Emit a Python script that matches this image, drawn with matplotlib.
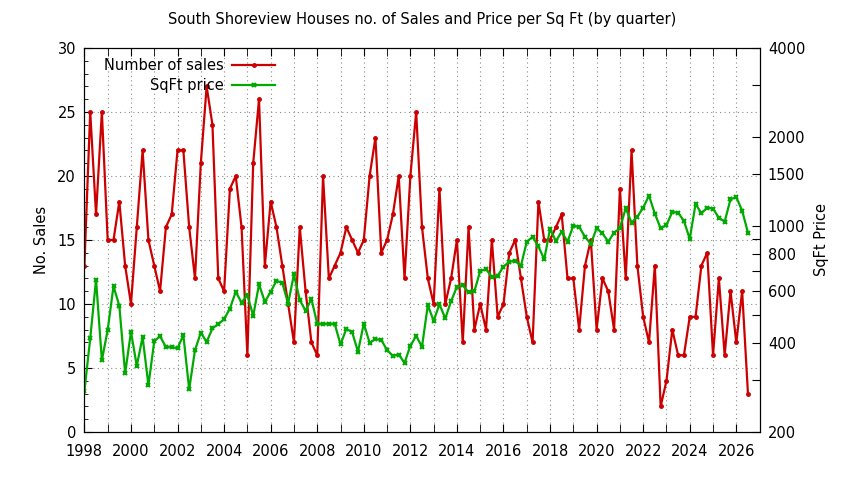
import numpy as np
import matplotlib
matplotlib.use("Agg")
import matplotlib.pyplot as plt
from matplotlib.ticker import MultipleLocator, FixedLocator, NullLocator, NullFormatter

plt.rcParams['font.family'] = ['DejaVu Sans']

# quarterly data, first quarter of 1998 onwards
first_year = 1998
sales = [13, 25, 17, 25, 15, 15, 18, 13, 10, 16,
         22, 15, 13, 11, 16, 17, 22, 22, 16, 12,
         21, 27, 24, 12, 11, 19, 20, 16, 6, 21,
         26, 13, 18, 16, 13, 10, 7, 16, 11, 7,
         6, 20, 12, 13, 14, 16, 15, 14, 15, 20,
         23, 14, 15, 17, 20, 12, 20, 25, 16, 12,
         10, 19, 10, 12, 15, 7, 16, 8, 10, 8,
         15, 9, 10, 14, 15, 12, 9, 7, 18, 15,
         15, 16, 17, 12, 12, 8, 13, 15, 8, 12,
         11, 8, 19, 12, 22, 13, 9, 7, 13, 2,
         4, 8, 6, 6, 9, 9, 13, 14, 6, 12,
         6, 11, 7, 11, 3]
sqft_price = [275, 415, 657, 350, 443, 624, 535, 316, 437, 335,
              420, 288, 406, 422, 388, 388, 384, 426, 279, 379,
              434, 404, 449, 464, 482, 524, 597, 549, 582, 495,
              633, 552, 597, 651, 640, 545, 684, 560, 515, 565,
              465, 465, 465, 465, 396, 447, 436, 374, 466, 401,
              413, 410, 379, 362, 366, 343, 392, 423, 389, 538,
              476, 542, 485, 555, 621, 628, 594, 600, 702, 712,
              671, 677, 726, 755, 761, 732, 883, 916, 851, 769,
              977, 887, 954, 883, 1000, 990, 918, 867, 980, 942,
              883, 947, 980, 1146, 1024, 1073, 1151, 1264, 1099, 980,
              1005, 1113, 1107, 1038, 902, 1185, 1102, 1151, 1142, 1064,
              1032, 1229, 1249, 1125, 947]
quarters = first_year + np.arange(len(sales)) / 4.0

year_labels = list(range(1998, 2027, 2))
price_ticks = [200, 300, 400, 500, 600, 700, 800, 900, 1000, 1500, 2000, 3000, 4000]
price_labels = [200, 400, 600, 800, 1000, 1500, 2000, 4000]

red = '#cc0000'
green = '#00aa00'

fig = plt.figure(figsize=(8.44, 4.8), dpi=100)
ax = fig.add_axes([0.1, 0.1, 0.8, 0.8])
ax2 = ax.twinx()

l1, = ax.plot(quarters, sales, color=red, lw=1.6, marker='o', ms=2.5,
              label='Number of sales')
l2, = ax2.plot(quarters, sqft_price, color=green, lw=1.6, marker='x', ms=3.5,
               mew=1.5, label='SqFt price')

ax.set_xlim(1998, 2027)
ax.set_ylim(0, 30)
ax.xaxis.set_major_locator(FixedLocator(year_labels))
ax.xaxis.set_minor_locator(MultipleLocator(1))
ax.yaxis.set_major_locator(MultipleLocator(5))
ax.yaxis.set_minor_locator(MultipleLocator(1))
ax.tick_params(which='both', direction='in', top=True, right=False, labelsize=10.5)
ax.tick_params(which='major', length=6)
ax.tick_params(which='minor', length=3)
ax.tick_params(axis='x', which='minor', length=6)
ax.tick_params(axis='x', which='major', pad=9)
ax.tick_params(axis='y', which='major', pad=6)
ax.grid(True, which='major', axis='y', linestyle=(0, (1, 3)), color='0.55', lw=0.8)
ax.grid(True, which='both', axis='x', linestyle=(0, (1, 3)), color='0.55', lw=0.8)
ax.set_axisbelow(True)

ax2.set_yscale('log')
ax2.set_ylim(200, 4000)
ax2.yaxis.set_major_locator(FixedLocator(price_ticks))
ax2.yaxis.set_minor_locator(NullLocator())
ax2.set_yticklabels([str(v) if v in price_labels else '' for v in price_ticks])
ax2.yaxis.set_minor_formatter(NullFormatter())
ax2.tick_params(which='both', direction='in', length=6, labelsize=10.5, pad=6)

ax.set_ylabel('No. Sales', fontsize=10.5, labelpad=6)
ax2.set_ylabel('SqFt Price', fontsize=10.5, labelpad=6)
fig.suptitle('South Shoreview Houses no. of Sales and Price per Sq Ft (by quarter)',
             fontsize=10.5, y=0.975)

ax2.legend([l1, l2], ['Number of sales', 'SqFt price'], loc='upper right',
           bbox_to_anchor=(0.297, 1.0), frameon=False, markerfirst=False,
           fontsize=10.5, handlelength=2.9, handletextpad=0.6,
           labelspacing=0.35, borderaxespad=0.3)

fig.savefig('out.png', dpi=100)
